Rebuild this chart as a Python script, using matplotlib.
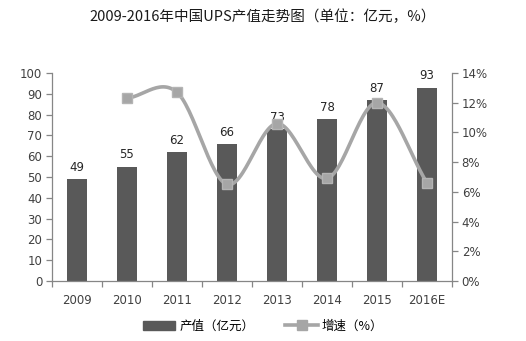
import numpy as np
import matplotlib.pyplot as plt
from matplotlib.ticker import FuncFormatter

plt.rcParams['font.family'] = ['Noto Sans CJK SC', 'DejaVu Sans']

# === DATA ===
years = ['2009', '2010', '2011', '2012', '2013', '2014', '2015', '2016E']
output_value = [49, 55, 62, 66, 73, 78, 87, 93]             # 亿元
growth_years = ['2010', '2011', '2012', '2013', '2014', '2015', '2016E']
growth_rate = [12.3, 12.7, 6.5, 10.6, 6.9, 12.0, 6.6]       # %

BAR_COLOR = '#595959'
LINE_COLOR = '#A6A6A6'
AXIS_COLOR = '#868686'


def smooth(x, y, steps=30):
    """Catmull-Rom curve through the points, like a smoothed line in Excel."""
    x = np.asarray(x, float)
    y = np.asarray(y, float)
    px = np.concatenate([[2 * x[0] - x[1]], x, [2 * x[-1] - x[-2]]])
    py = np.concatenate([[2 * y[0] - y[1]], y, [2 * y[-1] - y[-2]]])
    xs, ys = [], []
    t = np.linspace(0, 1, steps)
    for i in range(1, len(px) - 2):
        for p, out in ((px, xs), (py, ys)):
            p0, p1, p2, p3 = p[i - 1], p[i], p[i + 1], p[i + 2]
            out.extend(0.5 * (2 * p1 + (-p0 + p2) * t
                              + (2 * p0 - 5 * p1 + 4 * p2 - p3) * t ** 2
                              + (-p0 + 3 * p1 - 3 * p2 + p3) * t ** 3))
    return xs, ys


fig = plt.figure(figsize=(5.26, 3.41), dpi=100)
ax1 = fig.add_axes([52 / 526, 1 - 281 / 341, 400 / 526, 208 / 341])
ax2 = ax1.twinx()

x = np.arange(len(years))
bars = ax1.bar(x, output_value, width=0.4, color=BAR_COLOR, zorder=2)
for xi, v in zip(x, output_value):
    ax1.text(xi, v + 2.5, str(v), ha='center', va='bottom', fontsize=8.5,
             color='#262626', family='DejaVu Sans')

gx = [years.index(y) for y in growth_years]
sx, sy = smooth(gx, growth_rate)
ax2.plot(sx, sy, color=LINE_COLOR, lw=2.6, zorder=3, solid_capstyle='round')
ax2.plot(gx, growth_rate, ls='none', marker='s', ms=7, color=LINE_COLOR,
         mec='#B4B4B4', zorder=4)

ax1.set_xlim(-0.5, len(years) - 0.5)
ax1.set_ylim(0, 100)
ax2.set_ylim(0, 14)
ax1.set_yticks(range(0, 101, 10))
ax2.set_yticks(range(0, 15, 2))
ax2.yaxis.set_major_formatter(FuncFormatter(lambda v, _: f'{v:.0f}%'))
ax1.set_xticks(x)
ax1.set_xticklabels(years)
ax1.set_xticks(np.arange(-0.5, len(years)), minor=True)

for ax in (ax1, ax2):
    for side in ('top',):
        ax.spines[side].set_visible(False)
    for s in ax.spines.values():
        s.set_color(AXIS_COLOR)
        s.set_linewidth(0.9)
    ax.tick_params(axis='y', colors=AXIS_COLOR, labelcolor='#404040',
                   length=4, width=0.9, labelsize=8.5, pad=3)
ax1.spines['right'].set_visible(False)
ax2.spines['left'].set_visible(False)
ax2.spines['bottom'].set_visible(False)
ax1.tick_params(axis='x', which='major', length=0, labelsize=8.5,
                labelcolor='#404040', pad=9)
ax1.tick_params(axis='x', which='minor', length=4, width=0.9, color=AXIS_COLOR)
for lbl in ax1.get_yticklabels() + ax2.get_yticklabels() + ax1.get_xticklabels():
    lbl.set_family('DejaVu Sans')

fig.text(0.5, 1 - 17 / 341, '2009-2016年中国UPS产值走势图（单位：亿元，%）',
         ha='center', va='center', fontsize=10.5, color='#1a1a1a')

# legend
handles = [
    plt.Rectangle((0, 0), 1, 1, color=BAR_COLOR),
    plt.Line2D([], [], color=LINE_COLOR, lw=2.6, marker='s', ms=7),
]
fig.legend(handles, ['产值（亿元）', '增速（%）'], loc='center',
           bbox_to_anchor=(0.5, 1 - 326 / 341), ncol=2, frameon=False,
           fontsize=9, handlelength=2.6, handleheight=0.7, columnspacing=2.5,
           handletextpad=0.3)

fig.savefig('out.png', dpi=100)
